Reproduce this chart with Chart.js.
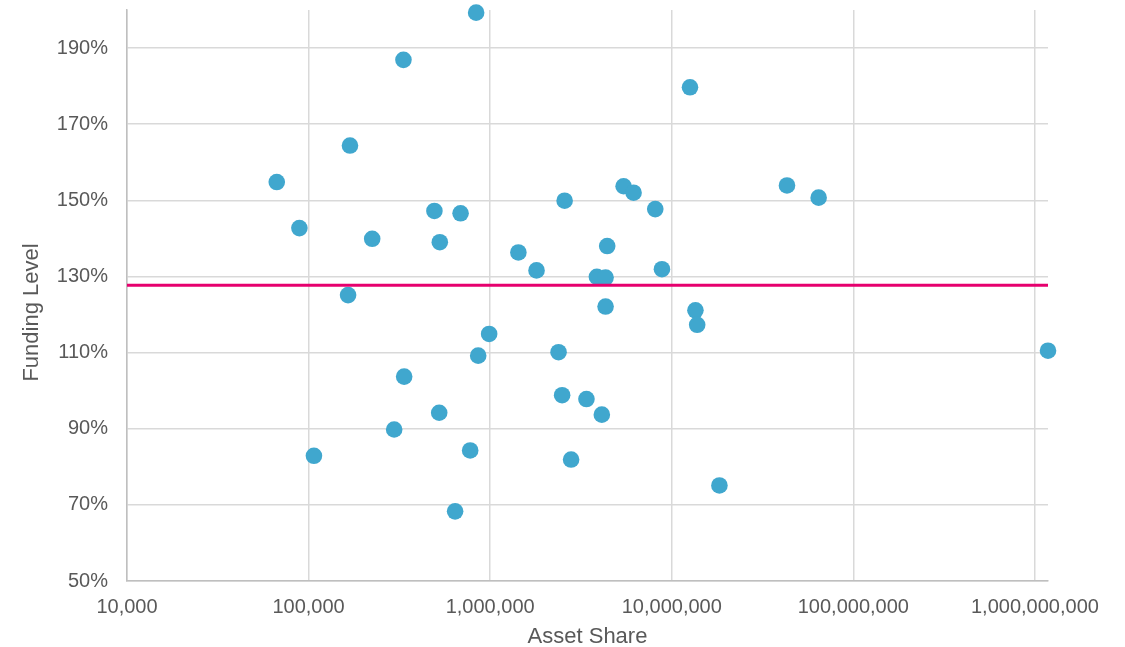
<!DOCTYPE html>
<html>
<head>
<meta charset="utf-8">
<script src="https://cdn.jsdelivr.net/npm/chart.js@4/dist/chart.umd.min.js"></script>
<style>
html, body { margin: 0; padding: 0; background: #fff; }
#wrap { width: 1125px; height: 647px; }
</style>
</head>
<body>
<div id="wrap"><canvas id="myChart" width="1125" height="647"></canvas></div>
<script>
'use strict';

// asset share (x, log scale) and funding level in % (y), one entry per scheme
const assetShare = [
	837000, 333000, 12600000, 169000, 66800, 89000, 224000, 493000, 687000, 528000,
	1430000, 1800000, 2570000, 5430000, 6160000, 8110000, 4410000, 3870000, 4320000, 8830000,
	4320000, 13500000, 13800000, 43100000, 64400000, 2380000, 2490000, 3390000, 4120000, 987000,
	859000, 336000, 524000, 296000, 776000, 107000, 2790000, 641000, 18300000, 165000,
	1180000000
]
const fundingLevel = [
	199.3, 186.9, 179.7, 164.4, 154.8, 142.7, 139.9, 147.2, 146.6, 139.0,
	136.3, 131.6, 149.9, 153.7, 152.0, 147.7, 138.0, 129.9, 129.7, 131.9,
	122.1, 121.1, 117.3, 153.9, 150.7, 110.1, 98.8, 97.8, 93.7, 114.9,
	109.2, 103.7, 94.2, 89.8, 84.3, 82.9, 81.9, 68.3, 75.1, 125.1,
	110.5
]
const averageFunding = 127.7

const xTickValues = [10000, 100000, 1000000, 10000000, 100000000, 1000000000]
const yTickValues = [50, 70, 90, 110, 130, 150, 170, 190]
const xRange = [10000, 1180000000]
const yRange = [50, 200]

const textColor = '#595959'
const gridColor = '#d9d9d9'
const axisColor = '#bfbfbf'
const fontFamily = '"Liberation Sans", Arial, sans-serif'

var points = assetShare.map((a, i) => ({x: a, y: fundingLevel[i]}))
var avgLine = xRange.map((x) => ({x: x, y: averageFunding}))

// y title sits a bit below the middle of the axis in the original
const yTitlePlugin = {
	id: 'yTitle',
	afterDraw(chart) {
		var ctx = chart.ctx
		var area = chart.chartArea
		ctx.save()
		ctx.translate(32, (area.top + area.bottom) / 2 + 17)
		ctx.rotate(-Math.PI / 2)
		ctx.fillStyle = textColor
		ctx.font = '22px ' + fontFamily
		ctx.textAlign = 'center'
		ctx.textBaseline = 'middle'
		ctx.fillText('Funding Level', 0, 0)
		ctx.restore()
	}
}

var canvas = document.getElementById('myChart')
var chart = new Chart(canvas.getContext('2d'), {
	type: 'scatter',
	data: {
		datasets: [
			{
				type: 'line',
				data: avgLine,
				borderColor: '#E6006E',
				borderWidth: 3,
				pointRadius: 0,
				fill: false,
				order: 0
			},
			{
				data: points,
				backgroundColor: '#40A7CE',
				borderWidth: 0,
				pointRadius: 8.3,
				pointHoverRadius: 8.3,
				clip: false,
				order: 1
			}
		]
	},
	plugins: [yTitlePlugin],
	options: {
		responsive: false,
		animation: false,
		layout: {padding: {top: 10, right: 77, bottom: 0, left: 0}},
		plugins: {legend: {display: false}, tooltip: {enabled: false}},
		scales: {
			x: {
				type: 'logarithmic',
				min: xRange[0],
				max: xRange[1],
				afterBuildTicks: (scale) => { scale.ticks = xTickValues.map((v) => ({value: v})) },
				afterFit: (scale) => {
					scale.height = 66
					scale.paddingLeft = 0
					scale.paddingRight = 0
				},
				grid: {color: gridColor, lineWidth: 1.5, drawTicks: false},
				border: {color: axisColor, width: 1.5},
				ticks: {
					color: textColor,
					font: {family: fontFamily, size: 20},
					padding: 14,
					maxRotation: 0,
					autoSkip: false,
					callback: (v) => Number(v).toLocaleString('en-US')
				},
				title: {
					display: true,
					text: 'Asset Share',
					color: textColor,
					font: {family: fontFamily, size: 22},
					padding: {top: 0, bottom: -3}
				}
			},
			y: {
				min: yRange[0],
				max: yRange[1],
				afterBuildTicks: (scale) => { scale.ticks = yTickValues.map((v) => ({value: v})) },
				afterFit: (scale) => {
					scale.width = 127
					scale.paddingTop = 0
					scale.paddingBottom = 0
				},
				grid: {color: gridColor, lineWidth: 1.5, drawTicks: false},
				border: {color: axisColor, width: 1.5},
				ticks: {
					color: textColor,
					font: {family: fontFamily, size: 20},
					padding: 19,
					callback: (v) => v + '%'
				},
				title: {display: false}
			}
		}
	}
})
</script>
</body>
</html>
